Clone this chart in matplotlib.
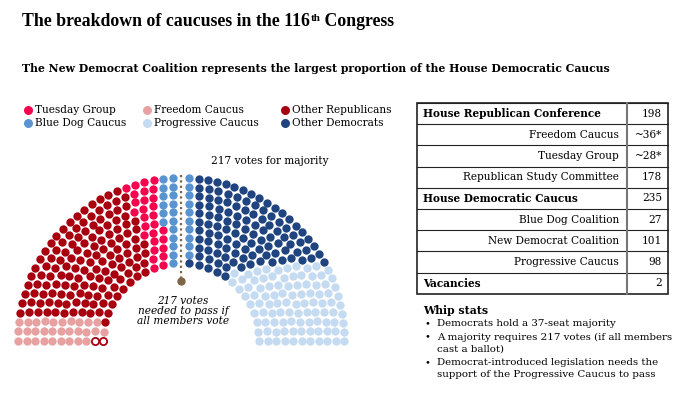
import matplotlib
matplotlib.use("Agg")
import matplotlib.pyplot as plt
import numpy as np
from matplotlib.patches import Rectangle

plt.rcParams["font.family"] = ["DejaVu Serif"]

# seat groups as drawn, from the left end of the hemicycle to the right end
groups = ["Vacancies", "Freedom Caucus", "Other Republicans", "Tuesday Group",
          "Blue Dog Caucus", "Other Democrats", "Progressive Caucus"]
seats = [2, 30, 140, 28, 27, 110, 98]
colors = ["#ffffff", "#e8a1a1", "#a90010", "#f4054e",
          "#5a94d0", "#1f447f", "#c5dbf1"]

legend_order = ["Tuesday Group", "Blue Dog Caucus", "Freedom Caucus",
                "Progressive Caucus", "Other Republicans", "Other Democrats"]

table_labels = ["House Republican Conference", "Freedom Caucus", "Tuesday Group",
                "Republican Study Committee", "House Democratic Caucus",
                "Blue Dog Coalition", "New Democrat Coalition", "Progressive Caucus",
                "Vacancies"]
table_values = ["198", "~36*", "~28*", "178", "235", "27", "101", "98", "2"]
table_bold = [True, False, False, False, True, False, False, False, True]

whip_items = ["Democrats hold a 37-seat majority",
              "A majority requires 217 votes (if all members\ncast a ballot)",
              "Democrat-introduced legislation needs the\nsupport of the Progressive Caucus to pass"]

majority = 217

fig = plt.figure(figsize=(7.0, 3.93), dpi=100)
ax = fig.add_axes([0, 0, 1, 1])
ax.set_xlim(0, 700)
ax.set_ylim(393, 0)
ax.axis("off")

# --- hemicycle layout: 11 rings, seat counts proportional to radius ---
cx, cy = 181, 341
n_rings = 11
radii = np.linspace(78, 163, n_rings)
gap = 8.5  # px either side of the majority line
total = sum(seats)
raw = majority * radii / radii.sum()
left_n = np.floor(raw).astype(int)
left_n[np.argsort(raw - left_n)[::-1][:majority - left_n.sum()]] += 1
right_n = left_n.copy()
right_n[-1] += total - 2 * majority

ring_id, k_left, ang = [], [], []
for i, (r, nl, nr) in enumerate(zip(radii, left_n, right_n)):
    a = np.concatenate([np.linspace(np.pi, np.pi / 2 + gap / r, nl),
                        np.linspace(np.pi / 2 - gap / r, 0, nr)])
    ring_id.extend([i] * len(a))
    k_left.extend(range(len(a)))
    ang.extend(a)
ring_id = np.array(ring_id)
k_left = np.array(k_left)
k_right = (left_n + right_n)[ring_id] - 1 - k_left
ang = np.array(ang)
rad = radii[ring_id]
xs = cx + rad * np.cos(ang)
ys = cy - rad * np.sin(ang)

# the end groups sit in rows at each end, the rest is filled by angle
label = np.full(total, -1)
n_left = seats[0] + seats[1]
left_band = np.lexsort((-ring_id, k_left))[:n_left]
vac = left_band[np.lexsort((ring_id[left_band], k_left[left_band]))][:seats[0]]
label[left_band] = 1
label[vac] = 0
right_band = np.lexsort((-ring_id, k_right))[:seats[-1]]
label[right_band] = len(groups) - 1
middle = np.where(label < 0)[0]
middle = middle[np.lexsort((ring_id[middle], -np.round(ang[middle], 9)))]
start = 0
for gi in range(2, len(groups) - 1):
    label[middle[start:start + seats[gi]]] = gi
    start += seats[gi]

for gi, (g, c) in enumerate(zip(groups, colors)):
    m = label == gi
    if g == "Vacancies":
        ax.scatter(xs[m], ys[m], s=27, facecolor="white", edgecolor="#a90010",
                   linewidth=1.3, zorder=3)
    else:
        ax.scatter(xs[m], ys[m], s=36, color=c, linewidth=0, zorder=3)

# majority line
ax.plot([cx, cx], [175, 280], color="#7d6645", lw=1.6, ls=(0, (1, 1.4)), zorder=4)
ax.plot(cx, 281, "o", color="#7d6645", ms=5, zorder=4)
ax.text(270, 161, f"{majority} votes for majority", ha="center", va="center", fontsize=7.6)
ax.text(183, 311, f"{majority} votes\nneeded to pass if\nall members vote", ha="center",
        va="center", fontsize=7.6, style="italic", linespacing=1.05)

# --- title ---
tfont = ["Liberation Serif", "DejaVu Serif"]
t1 = ax.text(22, 26, "The breakdown of caucuses in the 116", fontsize=12.8, weight="bold",
             va="baseline", ha="left", family=tfont)
t2 = ax.annotate("th", xy=(1, 1), xycoords=t1, fontsize=8, weight="bold", family=tfont,
                 va="top", ha="left", xytext=(0.5, -1), textcoords="offset points")
ax.annotate(" Congress", xy=(1, 0), xycoords=(t2, t1), fontsize=12.8, weight="bold",
            va="bottom", ha="left", family=tfont)
ax.text(22, 68, "The New Democrat Coalition represents the largest proportion of the House "
        "Democratic Caucus", fontsize=7.8, weight="bold", va="center")

# --- legend ---
leg_x = [28, 147, 285]
leg_y = [110, 123]
cmap = dict(zip(groups, colors))
for i, g in enumerate(legend_order):
    x = leg_x[i // 2]
    y = leg_y[i % 2]
    ax.scatter([x], [y], s=42, color=cmap[g], linewidth=0)
    ax.text(x + 7, y, g, va="center", ha="left", fontsize=7.6)

# --- table ---
tx0, tx1, tdiv = 417, 668, 627
ty0, row_h = 103, 21.2
for i, (lab, val, b) in enumerate(zip(table_labels, table_values, table_bold)):
    y = ty0 + i * row_h
    ax.plot([tx0, tx1], [y, y], color="#222222", lw=0.8)
    yc = y + row_h / 2
    if b:
        ax.text(tx0 + 6, yc, lab, ha="left", va="center", fontsize=7.6, weight="bold")
    else:
        ax.text(tdiv - 8, yc, lab, ha="right", va="center", fontsize=7.6)
    ax.text(tx1 - 6, yc, val, ha="right", va="center", fontsize=7.6)
ax.add_patch(Rectangle((tx0, ty0), tx1 - tx0, row_h * len(table_labels), fill=False,
                       edgecolor="#222222", lw=1.2))
ax.plot([tdiv, tdiv], [ty0, ty0 + row_h * len(table_labels)], color="#777777", lw=1.5)

# --- whip stats ---
ax.text(423, 311, "Whip stats", fontsize=7.8, weight="bold", va="center")
wy = 324
for item in whip_items:
    ax.text(424, wy, "\u2022", fontsize=7, va="center")
    for ln in item.split("\n"):
        ax.text(437, wy, ln, fontsize=7.4, va="center")
        wy += 12.3
    wy += 0.8

fig.savefig("out.png", dpi=100)
